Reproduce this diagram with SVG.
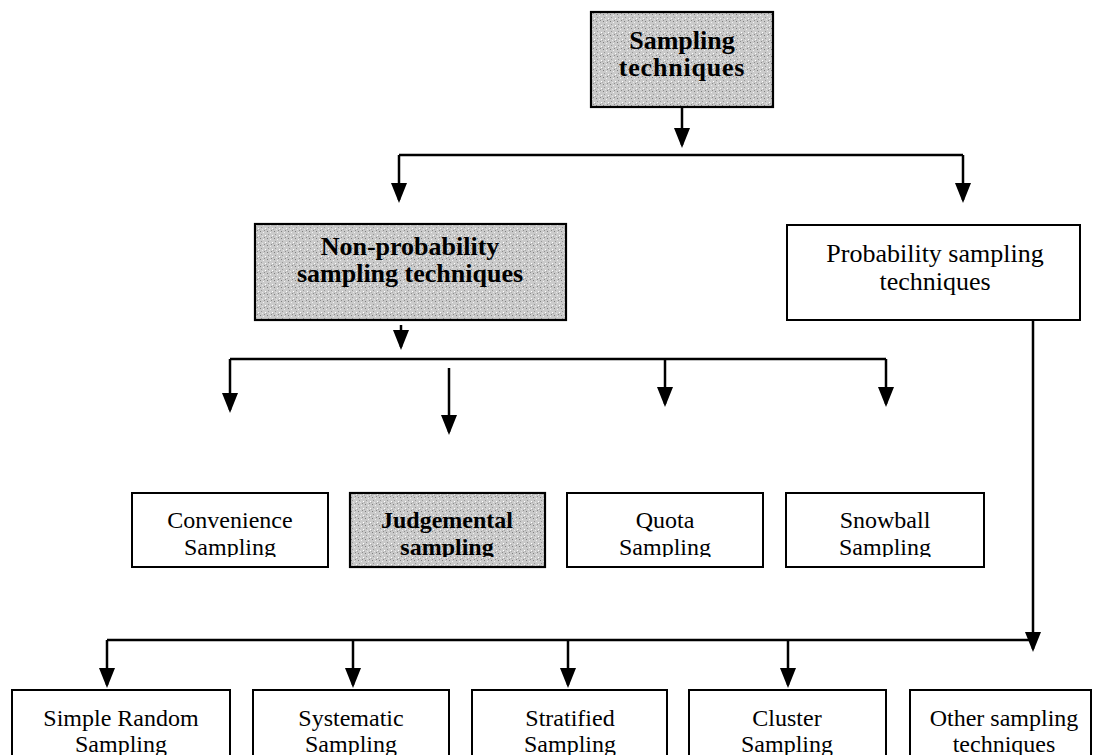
<svg xmlns="http://www.w3.org/2000/svg" width="1094" height="755" viewBox="0 0 1094 755">
  <style>
    .box { fill: #ffffff; stroke: #000; stroke-width: 2; }
    .shade { fill: url(#grain); stroke: #000; stroke-width: 2.2; }
    .t { font-family: "Liberation Serif", "Times New Roman", serif; font-size: 24px; text-anchor: middle; fill: #000; }
    .big { font-size: 26px; }
    .b { font-weight: bold; }
    .bb { font-weight: bold; font-size: 26px; }
    .wire { fill: none; stroke: #000; stroke-width: 2.5; }
    .arrow { fill: none; stroke: #000; stroke-width: 2.5; marker-end: url(#head); }
  </style>
  <defs>
    <!-- speckled grey fill for the highlighted boxes -->
    <pattern id="grain" width="7" height="7" patternUnits="userSpaceOnUse">
      <rect width="7" height="7" fill="#cacaca"/>
      <rect x="1" y="0" width="1" height="1" fill="#7e7e7e"/>
      <rect x="4" y="1" width="1" height="1" fill="#f2f2f2"/>
      <rect x="2" y="3" width="1" height="1" fill="#959595"/>
      <rect x="6" y="4" width="1" height="1" fill="#ffffff"/>
      <rect x="0" y="5" width="1" height="1" fill="#a8a8a8"/>
      <rect x="5" y="6" width="1" height="1" fill="#8c8c8c"/>
      <rect x="3" y="5" width="1" height="1" fill="#e6e6e6"/>
    </pattern>
    <marker id="head" markerUnits="userSpaceOnUse" markerWidth="20" markerHeight="16" refX="17" refY="8" orient="auto">
      <path d="M0,0 L20,8 L0,16 Z" fill="#000"/>
    </marker>
    <!-- second text line of the middle row is cut just under its baseline -->
    <clipPath id="cutMid">
      <rect x="0" y="0" width="1094" height="557"/>
    </clipPath>
  </defs>

  <g id="connectors">
    <path class="arrow" d="M682,107 V145"/>
    <path class="wire" d="M399,155 H963"/>
    <path class="arrow" d="M399,155 V200"/>
    <path class="arrow" d="M963,155 V200"/>

    <path class="arrow" d="M401,325 V347"/>
    <path class="wire" d="M230,359 H886"/>
    <path class="arrow" d="M230,359 V410"/>
    <path class="arrow" d="M449,368 V432"/>
    <path class="arrow" d="M665,359 V404"/>
    <path class="arrow" d="M886,359 V404"/>

    <path class="arrow" d="M1033,320 V649"/>
    <path class="wire" d="M107,640 H1033"/>
    <path class="arrow" d="M107,640 V685"/>
    <path class="arrow" d="M353,640 V685"/>
    <path class="arrow" d="M568,640 V685"/>
    <path class="arrow" d="M788,640 V685"/>
  </g>

  <g id="sampling-techniques">
    <rect class="shade" x="591" y="12" width="182" height="95"/>
    <text class="t bb" x="682" y="49">Sampling</text>
    <text class="t bb" x="682" y="76" letter-spacing="0.8">techniques</text>
  </g>

  <g id="non-probability">
    <rect class="shade" x="255" y="224" width="311" height="96"/>
    <text class="t bb" x="410" y="255">Non-probability</text>
    <text class="t bb" x="410" y="282">sampling techniques</text>
  </g>

  <g id="probability">
    <rect class="box" x="787" y="225" width="293" height="95"/>
    <text class="t big" x="935" y="262">Probability sampling</text>
    <text class="t big" x="935" y="290">techniques</text>
  </g>

  <g id="convenience">
    <rect class="box" x="132" y="493" width="196" height="74"/>
    <text class="t" x="230" y="528">Convenience</text>
    <text class="t" x="230" y="555" clip-path="url(#cutMid)">Sampling</text>
  </g>

  <g id="judgemental">
    <rect class="shade" x="350" y="493" width="195" height="74"/>
    <text class="t b" x="447" y="528">Judgemental</text>
    <text class="t b" x="447" y="555" clip-path="url(#cutMid)">sampling</text>
  </g>

  <g id="quota">
    <rect class="box" x="567" y="493" width="196" height="74"/>
    <text class="t" x="665" y="528">Quota</text>
    <text class="t" x="665" y="555" clip-path="url(#cutMid)">Sampling</text>
  </g>

  <g id="snowball">
    <rect class="box" x="786" y="493" width="198" height="74"/>
    <text class="t" x="885" y="528">Snowball</text>
    <text class="t" x="885" y="555" clip-path="url(#cutMid)">Sampling</text>
  </g>

  <g id="simple-random">
    <rect class="box" x="12" y="690" width="218" height="80"/>
    <text class="t" x="121" y="726">Simple Random</text>
    <text class="t" x="121" y="752">Sampling</text>
  </g>

  <g id="systematic">
    <rect class="box" x="253" y="690" width="196" height="80"/>
    <text class="t" x="351" y="726">Systematic</text>
    <text class="t" x="351" y="752">Sampling</text>
  </g>

  <g id="stratified">
    <rect class="box" x="472" y="690" width="195" height="80"/>
    <text class="t" x="570" y="726">Stratified</text>
    <text class="t" x="570" y="752">Sampling</text>
  </g>

  <g id="cluster">
    <rect class="box" x="689" y="690" width="197" height="80"/>
    <text class="t" x="787" y="726">Cluster</text>
    <text class="t" x="787" y="752">Sampling</text>
  </g>

  <g id="other">
    <rect class="box" x="910" y="690" width="181" height="80"/>
    <text class="t" x="1004" y="726">Other sampling</text>
    <text class="t" x="1004" y="752">techniques</text>
  </g>
</svg>
